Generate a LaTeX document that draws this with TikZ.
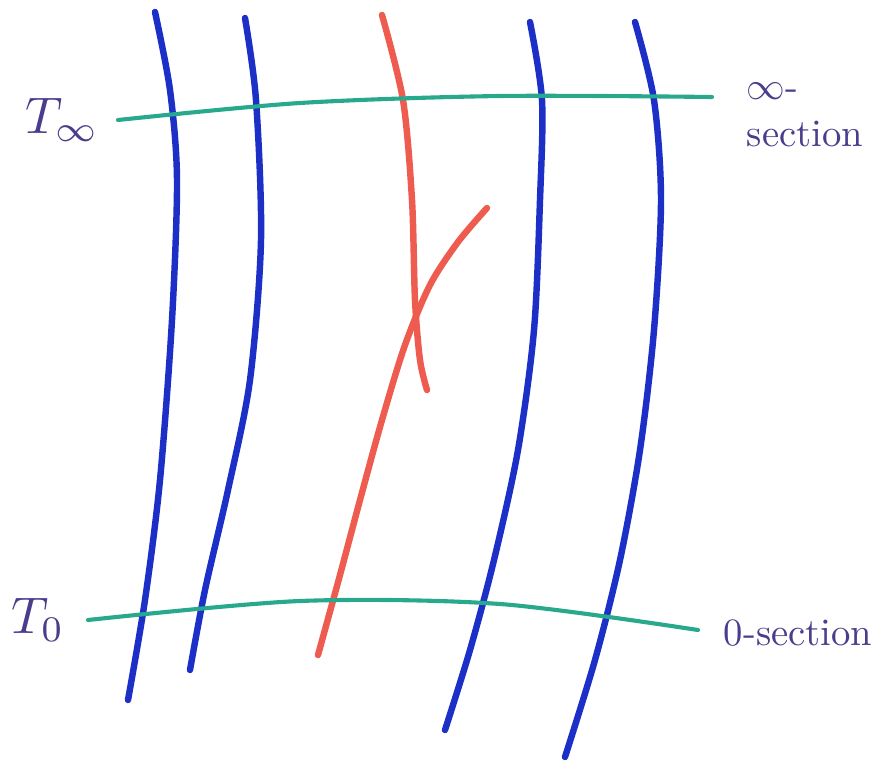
\documentclass[tikz,border=0pt]{standalone}
\usetikzlibrary{positioning}
\definecolor{penblue}{RGB}{28,48,200}
\definecolor{penred}{RGB}{238,92,80}
\definecolor{pengreen}{RGB}{40,168,140}
\definecolor{peninkblue}{RGB}{72,62,140}
\begin{document}
\begin{tikzpicture}[x=0.03cm,y=-0.03cm,fiber/.style={draw=penblue,line width=5.5pt,line cap=round},curve/.style={draw=penred,line width=5.5pt,line cap=round},sect/.style={draw=pengreen,line width=3.5pt,line cap=round},lbl/.style={text=peninkblue,scale=3.3,inner sep=0pt},bigl/.style={text=peninkblue,scale=4.4,inner sep=0pt}]
\useasboundingbox (0,0) rectangle (889,762);
% fibres
\draw[fiber] plot[smooth] coordinates {(155,12) (170,90) (177,180) (172,320) (160,480) (145,600) (128,700)};
\draw[fiber] plot[smooth] coordinates {(245,18) (256,100) (261,240) (250,380) (228,490) (205,590) (190,670)};
\draw[fiber] plot[smooth] coordinates {(530,22) (542,100) (540,200) (534,330) (518,450) (494,560) (470,650) (445,730)};
\draw[fiber] plot[smooth] coordinates {(635,22) (654,100) (661,200) (654,330) (640,450) (620,560) (595,660) (565,757)};
% curves
\draw[curve] plot[smooth] coordinates {(382,15) (403,100) (412,200) (415,300) (420,360) (427,390)};
\draw[curve] plot[smooth] coordinates {(487,208) (458,242) (430,285) (405,345) (382,420) (360,500) (340,575) (318,655)};
% sections
\draw[sect] plot[smooth] coordinates {(118,120) (300,103) (500,96) (712,97)};
\draw[sect] plot[smooth] coordinates {(88,620) (300,601) (500,604) (698,630)};
% labels
\node[bigl] (tinf) at (62,120) {$T_\infty$};
\node[lbl,align=left] (infsec) at (805,115) {$\infty$-\\section};
\node[bigl] (tzero) at (38,620) {$T_0$};
\node[lbl] (zerosec) at (798,633) {0-section};
\end{tikzpicture}
\end{document}
